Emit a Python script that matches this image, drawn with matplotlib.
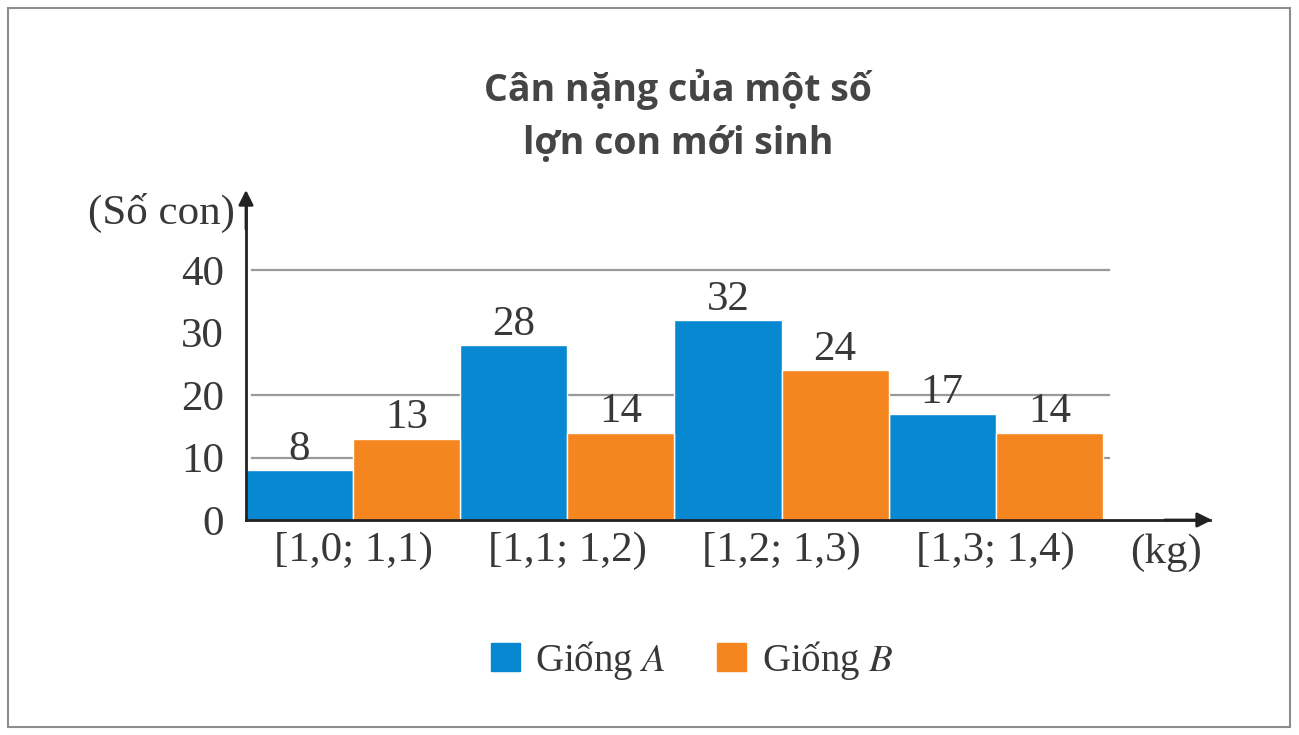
import numpy as np
import matplotlib
matplotlib.use("Agg")
import matplotlib.pyplot as plt
from matplotlib.patches import Rectangle, Patch

# du lieu
khoang = ["[1,0; 1,1)", "[1,1; 1,2)", "[1,2; 1,3)", "[1,3; 1,4)"]
giong_a = [8, 28, 32, 17]
giong_b = [13, 14, 24, 14]
y_ticks = [0, 10, 20, 30, 40]
grid_y = [10, 20, 40]

mau_a = "#0788d0"
mau_b = "#f5861f"
chu = "#383838"

plt.rcParams["mathtext.fontset"] = "stix"
serif = "Liberation Serif"
fs = 31

fig = plt.figure(figsize=(12.99, 7.35), dpi=100)
W, H = 1299, 735

# khung vien
fig.patches.append(Rectangle((8 / W, 8 / H), 1282 / W, 719 / H, transform=fig.transFigure,
                             fill=False, edgecolor="#8c8c8c", linewidth=1.5))

ax = fig.add_axes([246 / W, 1 - 520 / H, 964 / W, 320 / H])
x = np.arange(len(khoang))
w = 0.5

ax.set_xlim(-0.5, 4.0)
ax.set_ylim(0, 51.2)

for g in grid_y:
    ax.plot([-0.47, 3.53], [g, g], color="#9a9a9a", linewidth=1.6, zorder=0)

b1 = ax.bar(x - w / 2, giong_a, w, color=mau_a, edgecolor="white", linewidth=1, zorder=2)
b2 = ax.bar(x + w / 2, giong_b, w, color=mau_b, edgecolor="white", linewidth=1, zorder=2)
ax.bar_label(b1, padding=1, fontsize=fs, family=serif, color=chu)
ax.bar_label(b2, padding=1, fontsize=fs, family=serif, color=chu)

for s in ["top", "right"]:
    ax.spines[s].set_visible(False)
for s in ["left", "bottom"]:
    ax.spines[s].set_color("#222222")
    ax.spines[s].set_linewidth(2)
    ax.spines[s].set_zorder(3)

# mui ten
ax.annotate("", xy=(0, 1.04), xycoords="axes fraction", xytext=(0, 0.9),
            arrowprops=dict(arrowstyle="-|>", color="#222222", lw=2, mutation_scale=22))
ax.annotate("", xy=(1.005, 0), xycoords="axes fraction", xytext=(0.95, 0),
            arrowprops=dict(arrowstyle="-|>", color="#222222", lw=2, mutation_scale=22))

ax.set_yticks(y_ticks)
ax.set_yticklabels([str(v) for v in y_ticks], fontsize=fs, family=serif, color=chu)
ax.set_xticks(x)
ax.set_xticklabels(khoang, fontsize=fs, family=serif, color=chu)
ax.tick_params(length=0, pad=8)
ax.tick_params(axis="y", pad=16)

fig.text(235 / W, 1 - 213 / H, "(Số con)", ha="right", va="center",
         fontsize=fs, family=serif, color=chu)
fig.text(1166 / W, 1 - 553 / H, "(kg)", ha="center", va="center",
         fontsize=fs, family=serif, color=chu)

fig.text(678 / W, 1 - 116 / H, "Cân nặng của một số\nlợn con mới sinh", ha="center", va="center",
         fontsize=27, fontweight="bold", family="Open Sans", color="#454545", linespacing=1.5)

handles = [Patch(color=mau_a), Patch(color=mau_b)]
fig.legend(handles, ["Giống $A$", "Giống $B$"], loc="center", bbox_to_anchor=(692 / W, 1 - 660 / H),
           ncol=2, frameon=False, prop={"family": serif, "size": 28},
           handlelength=0.75, handleheight=0.75, handletextpad=0.4, columnspacing=1.3,
           labelcolor=chu)

fig.savefig("out.png", dpi=100)
